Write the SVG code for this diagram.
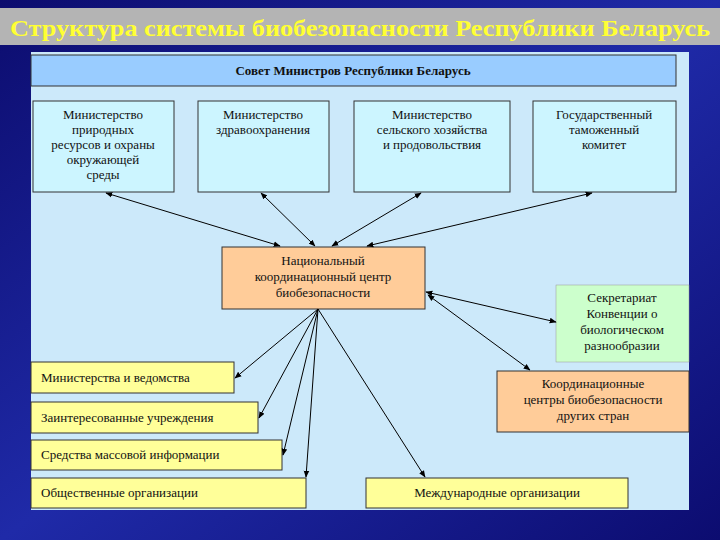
<svg xmlns="http://www.w3.org/2000/svg" width="720" height="540" viewBox="0 0 720 540" font-family="'Liberation Serif', serif">
<defs>
<linearGradient id="bg" x1="0" y1="0" x2="1" y2="1"><stop offset="0" stop-color="#0c0c6e"/><stop offset="0.5" stop-color="#1f2aa8"/><stop offset="1" stop-color="#0c0c70"/></linearGradient>
<marker id="a" viewBox="0 0 10 10" refX="9" refY="5" markerWidth="7" markerHeight="7" orient="auto-start-reverse"><path d="M0,1 L10,5 L0,9 z" fill="#000"/></marker>
<style>
.b{stroke:#333;stroke-width:1}
.t{font-size:13px;fill:#111}
.c{text-anchor:middle}
.l line{stroke:#000;stroke-width:1;marker-end:url(#a)}
.l line.d{marker-start:url(#a)}
</style>
</defs>
<rect width="720" height="540" fill="url(#bg)"/>
<rect x="0" y="8" width="720" height="37" fill="#b4b4b4"/>
<text x="360" y="36" text-anchor="middle" font-weight="bold" font-size="24" fill="#ffff33" textLength="700" lengthAdjust="spacingAndGlyphs">Структура системы биобезопасности Республики Беларусь</text>
<rect x="31" y="52" width="658" height="458" fill="#cce9fa"/>
<g id="sovet"><rect class="b" x="31" y="55" width="645" height="31" fill="#99ccff"/><text class="t c" x="353" y="75" font-weight="bold">Совет Министров Республики Беларусь</text></g>
<g id="m1"><rect class="b" x="33" y="101" width="141" height="91" fill="#ccf5ff"/><text class="t c" x="103" y="119">Министерство<tspan x="103" dy="15">природных</tspan><tspan x="103" dy="15">ресурсов и охраны</tspan><tspan x="103" dy="15">окружающей</tspan><tspan x="103" dy="15">среды</tspan></text></g>
<g id="m2"><rect class="b" x="198" y="101" width="131" height="91" fill="#ccf5ff"/><text class="t c" x="263" y="119">Министерство<tspan x="263" dy="15">здравоохранения</tspan></text></g>
<g id="m3"><rect class="b" x="354" y="101" width="156" height="91" fill="#ccf5ff"/><text class="t c" x="432" y="119">Министерство<tspan x="432" dy="15">сельского хозяйства</tspan><tspan x="432" dy="15">и продовольствия</tspan></text></g>
<g id="m4"><rect class="b" x="533" y="101" width="143" height="91" fill="#ccf5ff"/><text class="t c" x="604" y="119">Государственный<tspan x="604" dy="15">таможенный</tspan><tspan x="604" dy="15">комитет</tspan></text></g>
<g id="center"><rect class="b" x="222" y="247" width="203" height="62" fill="#ffcc99"/><text class="t c" x="323" y="265">Национальный<tspan x="323" dy="16">координационный центр</tspan><tspan x="323" dy="16">биобезопасности</tspan></text></g>
<g id="sekr"><rect x="556" y="285" width="133" height="77" fill="#ccffcc" stroke="#999" stroke-width="0.5"/><text class="t c" x="622" y="302">Секретариат<tspan x="622" dy="16">Конвенции о</tspan><tspan x="622" dy="16">биологическом</tspan><tspan x="622" dy="16">разнообразии</tspan></text></g>
<g id="koord"><rect class="b" x="497" y="371" width="192" height="61" fill="#ffcc99"/><text class="t c" x="593" y="388">Координационные<tspan x="593" dy="16">центры биобезопасности</tspan><tspan x="593" dy="16">других стран</tspan></text></g>
<g id="y1"><rect class="b" x="31" y="362" width="203" height="31" fill="#ffff99"/><text class="t" x="41" y="382">Министерства и ведомства</text></g>
<g id="y2"><rect class="b" x="31" y="402" width="227" height="31" fill="#ffff99"/><text class="t" x="41" y="422">Заинтересованные учреждения</text></g>
<g id="y3"><rect class="b" x="31" y="440" width="251" height="30" fill="#ffff99"/><text class="t" x="41" y="459">Средства массовой информации</text></g>
<g id="y4"><rect class="b" x="31" y="478" width="275" height="30" fill="#ffff99"/><text class="t" x="41" y="497">Общественные организации</text></g>
<g id="y5"><rect class="b" x="366" y="478" width="262" height="30" fill="#ffff99"/><text class="t c" x="497" y="497">Международные организации</text></g>
<g id="connectors" class="l">
<line class="d" x1="106" y1="193" x2="280" y2="246"/>
<line class="d" x1="261" y1="193" x2="315" y2="246"/>
<line class="d" x1="421" y1="193" x2="332" y2="246"/>
<line class="d" x1="592" y1="193" x2="367" y2="246"/>
<line class="d" x1="426" y1="292" x2="556" y2="322"/>
<line class="d" x1="428" y1="295" x2="530" y2="370"/>
<line x1="318" y1="309" x2="235" y2="378"/>
<line x1="318" y1="309" x2="259" y2="418"/>
<line x1="318" y1="309" x2="283" y2="455"/>
<line x1="318" y1="309" x2="306" y2="477"/>
<line x1="318" y1="309" x2="425" y2="477"/>
</g>
</svg>
